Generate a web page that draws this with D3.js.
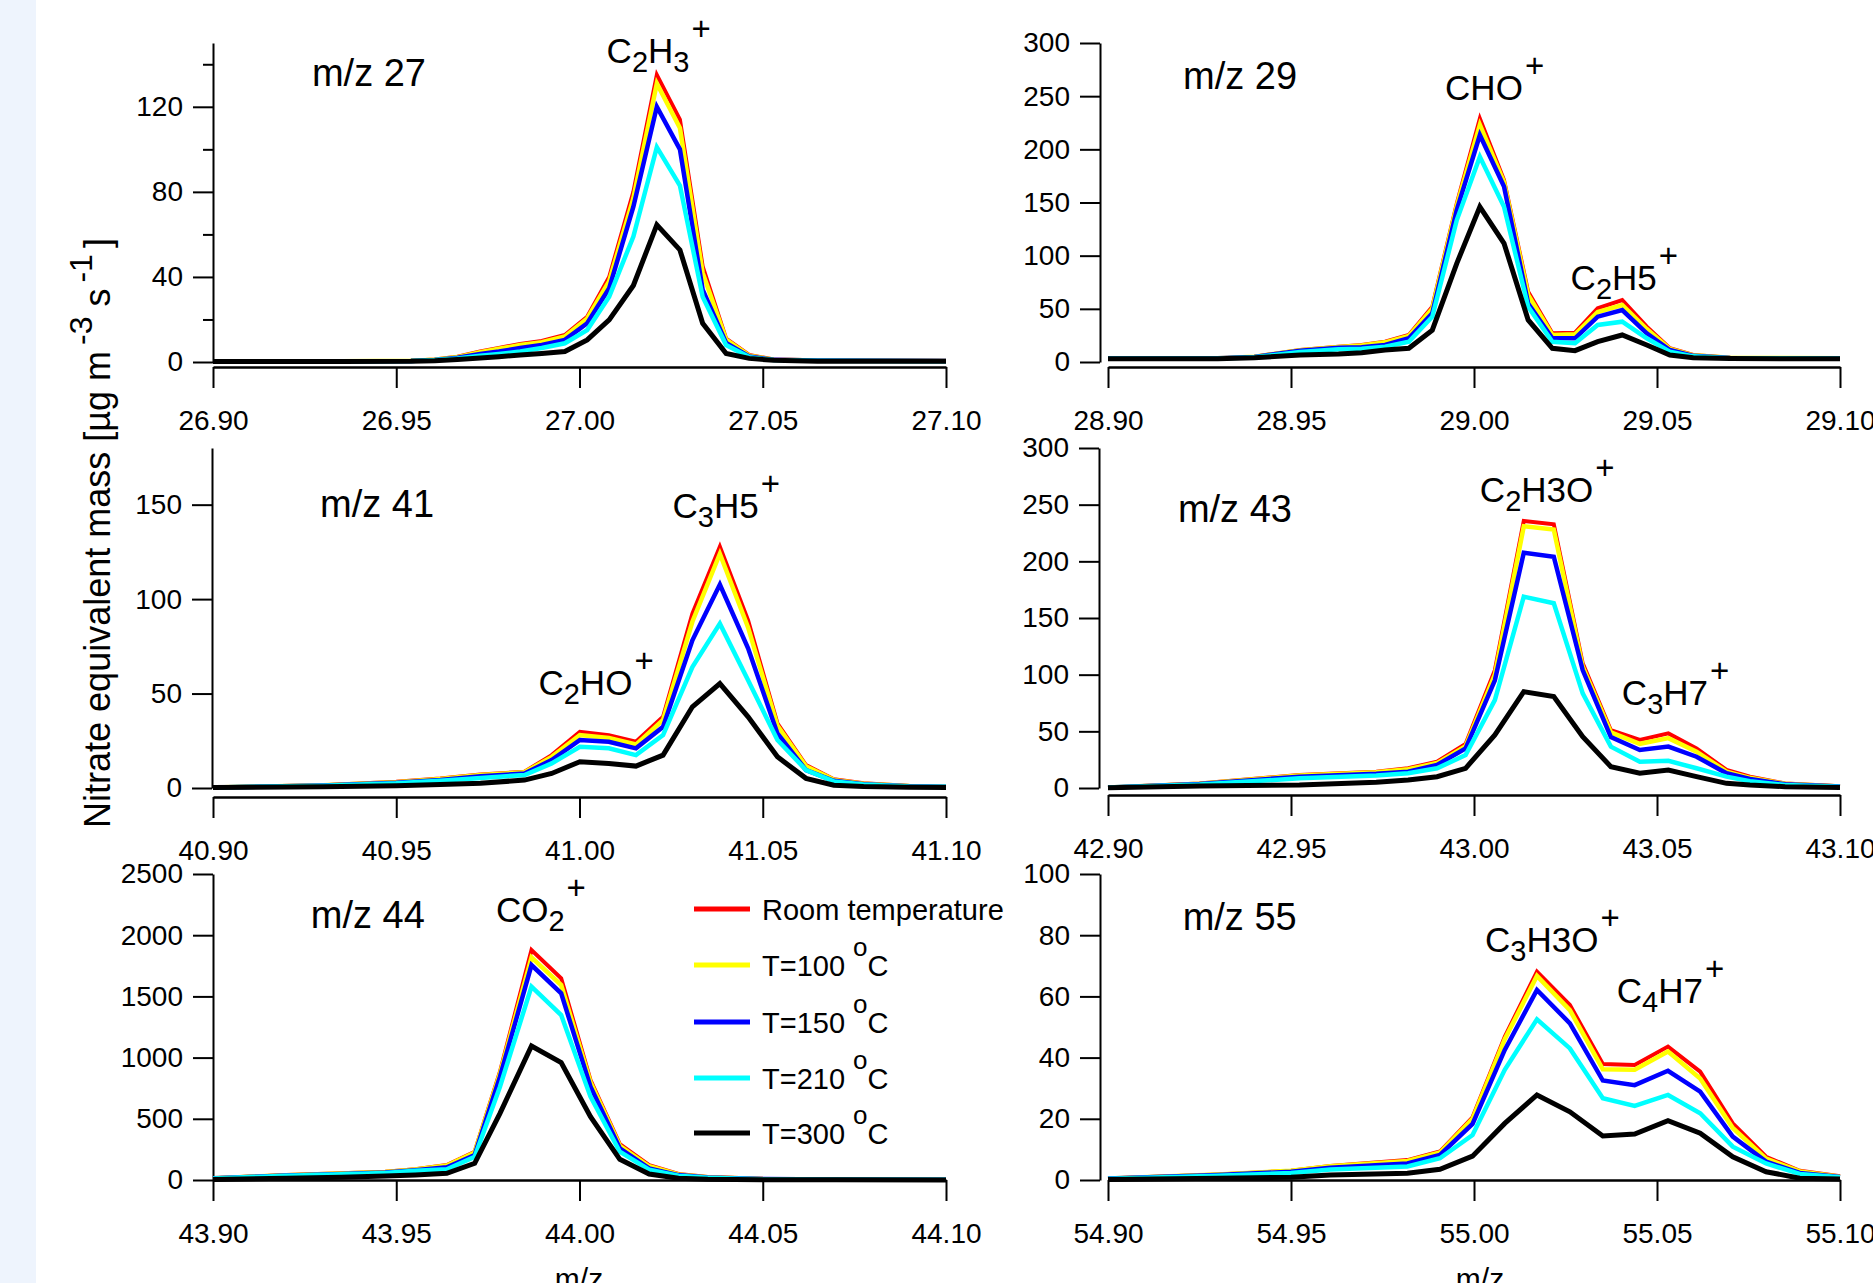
<!DOCTYPE html>
<html><head><meta charset="utf-8">
<script src="https://cdn.jsdelivr.net/npm/d3@7"></script>
<style>
html,body{margin:0;padding:0;background:#fff;}
svg{display:block;}
text{font-family:"Liberation Sans", Arial, sans-serif;fill:#000;}
</style></head><body>
<svg id="chart" width="1873" height="1283"></svg>
<script>
// ---------- series ----------
const seriesLabels = ["Room temperature", "T=100 ", "T=150 ", "T=210 ", "T=300 "];

// ---------- m/z 27 ----------
const mz27    = [26.90, 26.935, 26.954, 26.9605, 26.9667, 26.9729, 26.978, 26.9838, 26.9897, 26.996, 27.0021, 27.0081, 27.0147, 27.0211, 27.0274, 27.0336, 27.040, 27.0463, 27.053, 27.065, 27.10];
const room27  = [0.3, 0.3, 0.6, 1.2, 2.5, 4.9, 6.6, 8.5, 9.9, 12.7, 21.3, 40, 80, 135, 114, 45, 11, 3.3, 1.2, 0.8, 0.5];
const t100_27 = [0.3, 0.3, 0.6, 1.1, 2.3, 4.6, 6.2, 8.0, 9.3, 12.0, 20.5, 38, 77, 131, 110, 42, 10.5, 3.0, 1.1, 0.7, 0.5];
const t150_27 = [0.3, 0.3, 0.5, 1.0, 2.0, 3.8, 4.9, 6.6, 8.0, 10.4, 18.2, 34.7, 73, 120, 100, 34, 9, 2.6, 1.0, 0.7, 0.5];
const t210_27 = [0.3, 0.3, 0.5, 0.9, 1.6, 3.0, 3.8, 4.9, 6.6, 8.8, 15, 30.7, 59, 101, 83, 30.7, 8, 2.3, 0.9, 0.6, 0.4];
const t300_27 = [0.2, 0.2, 0.3, 0.6, 1.2, 1.9, 2.5, 3.3, 4.0, 4.9, 10.4, 19.8, 36, 64.5, 52.7, 18.2, 4, 1.7, 0.8, 0.4, 0.3];

// ---------- m/z 29 ----------
const mz29    = [28.90, 28.93, 28.94, 28.9525, 28.963, 28.9693, 28.9757, 28.9822, 28.9886, 28.9953, 29.0016, 29.0082, 29.0148, 29.0214, 29.0276, 29.0338, 29.0405, 29.0472, 29.0535, 29.0599, 29.07, 29.10];
const room29  = [3.5, 3.5, 5, 11.3, 14.4, 16, 19.1, 25.4, 52, 149, 229, 171, 66, 27, 27.6, 50.5, 58.3, 33.2, 12.9, 6.6, 4, 3.5];
const t100_29 = [3.5, 3.5, 5, 11, 14, 15.5, 18.5, 24.5, 50, 147, 223, 169, 63, 25.5, 26, 47, 53.6, 31, 12.3, 6.3, 4, 3.5];
const t150_29 = [3.5, 3.5, 4.8, 10.5, 13.5, 13.8, 16, 22.3, 45.8, 143, 213.5, 165, 55, 22.3, 22.3, 42.6, 48.9, 27, 11.3, 5.8, 3.8, 3.3];
const t210_29 = [3.3, 3.3, 4.5, 9.5, 12, 12.5, 14.4, 19, 42.6, 133.5, 193, 146, 52, 19, 17.6, 34.8, 37.9, 22.3, 9.7, 5.3, 3.6, 3.2];
const t300_29 = [3, 3, 4, 6.6, 7.5, 8.8, 11.3, 12.9, 30, 92.8, 146, 111.6, 39.5, 12.9, 10.7, 19.1, 25.4, 16, 6.6, 4, 3.3, 3];

// ---------- m/z 41 ----------
const mz41    = [40.90, 40.93, 40.95, 40.962, 40.973, 40.985, 40.9924, 41.0001, 41.008, 41.0154, 41.0228, 41.0308, 41.0383, 41.046, 41.054, 41.0618, 41.0694, 41.0775, 41.09, 41.10];
const room41  = [0.3, 1.5, 3.3, 5, 7.2, 8.6, 17.4, 29.7, 28, 24.5, 37.7, 92.3, 127.8, 88.7, 34.2, 12.1, 4.6, 2.5, 1, 0.8];
const t100_41 = [0.3, 1.4, 3.1, 4.8, 6.9, 8.3, 16.5, 28, 26.5, 23, 36, 88, 124, 85, 33, 11.5, 4.3, 2.3, 1, 0.8];
const t150_41 = [0.3, 1.3, 2.8, 4.3, 6.2, 7.7, 14.8, 25.4, 24.5, 21, 32.4, 78.2, 107.7, 74, 28.9, 9.5, 3.8, 2, 0.9, 0.7];
const t210_41 = [0.3, 1.2, 2.5, 3.8, 5.3, 6.9, 13, 21.8, 21, 17.4, 28, 64, 87, 57, 25.4, 9.5, 3.5, 1.8, 0.8, 0.6];
const t300_41 = [0.2, 0.6, 1.2, 1.8, 2.5, 4.2, 7.7, 13.9, 13, 11.6, 17.4, 43, 55.3, 37.7, 16.5, 5.1, 1.5, 0.8, 0.4, 0.3];

// ---------- m/z 43 ----------
const mz43    = [42.90, 42.925, 42.9523, 42.9733, 42.982, 42.9899, 42.9977, 43.0057, 43.0136, 43.0218, 43.0297, 43.0374, 43.0453, 43.0531, 43.0608, 43.069, 43.0754, 43.085, 43.10];
const room43  = [0.5, 4, 11.5, 14.4, 17.4, 23.2, 38.8, 104, 235.6, 232.6, 110, 51, 42.4, 48.2, 35, 15.9, 10, 4, 1.5];
const t100_43 = [0.5, 3.8, 11, 14, 16.5, 22, 37, 100, 231, 228, 107, 49, 39, 44, 32, 14.5, 9, 3.7, 1.4];
const t150_43 = [0.5, 3.5, 10, 12.5, 14.4, 20.3, 35, 95, 207.6, 204, 104, 45, 33.5, 36.5, 27.6, 13, 8, 3.3, 1.3];
const t210_43 = [0.4, 3, 8.5, 11, 13, 17.4, 29, 77.6, 168.8, 163, 83.5, 36.5, 23.2, 24, 17.4, 10, 6, 2.7, 1.1];
const t300_43 = [0.3, 1.8, 2.6, 5, 7, 10, 17.4, 46.8, 85, 80.6, 45.3, 18.8, 13, 15.9, 10, 4.1, 2.6, 1.2, 0.5];

// ---------- m/z 44 ----------
const mz44    = [43.90, 43.92, 43.935, 43.947, 43.9552, 43.9638, 43.9714, 43.9783, 43.9869, 43.995, 44.003, 44.011, 44.019, 44.027, 44.035, 44.05, 44.07, 44.10];
const room44  = [15, 40, 55, 68, 87, 122, 231, 885, 1879, 1648, 817, 294, 122, 49, 25, 10, 5, 3];
const t100_44 = [15, 39, 53, 66, 85, 118, 225, 870, 1819, 1593, 800, 280, 112, 45, 23, 9, 5, 3];
const t150_44 = [14, 37, 50, 62, 80, 104, 204, 844, 1756, 1525, 762, 259, 95, 40, 20, 8, 4, 3];
const t210_44 = [13, 35, 47, 58, 75, 87, 190, 762, 1580, 1348, 681, 231, 85, 35, 18, 7, 4, 2];
const t300_44 = [5, 15, 22, 33, 41, 55, 136, 545, 1095, 959, 517, 169, 49, 14, 6, 3, 2, 1];

// ---------- m/z 55 ----------
const mz55    = [54.90, 54.93, 54.95, 54.9607, 54.9818, 54.9907, 54.9996, 55.0084, 55.0172, 55.0262, 55.0352, 55.0439, 55.053, 55.0618, 55.0707, 55.0798, 55.089, 55.10];
const room55  = [0.5, 1.8, 3, 4.6, 6.5, 9.3, 20.5, 46.8, 68.1, 57.2, 37.9, 37.6, 43.6, 35.4, 18.5, 7.6, 3, 1.2];
const t100_55 = [0.5, 1.8, 3, 4.5, 6.2, 9, 20, 46, 66.7, 55.5, 36.2, 36, 42, 33.2, 17, 7, 2.8, 1.1];
const t150_55 = [0.5, 1.6, 2.7, 4, 5.4, 8.2, 18.3, 42.5, 62.1, 51.2, 32.5, 31, 35.7, 28.9, 14.2, 6, 2.3, 1];
const t210_55 = [0.4, 1.4, 2.3, 3.4, 4.4, 7.1, 14.7, 36, 52.5, 43, 26.7, 24.2, 27.8, 21.8, 10.9, 5.4, 2, 0.9];
const t300_55 = [0.2, 0.6, 0.9, 1.6, 2.2, 3.5, 7.8, 18.5, 27.8, 22.3, 14.4, 15, 19.4, 15.3, 7.6, 2.7, 0.6, 0.3];

// ---------- ticks ----------
const xTicks27 = [26.90, 26.95, 27.00, 27.05, 27.10];
const xTicks29 = [28.90, 28.95, 29.00, 29.05, 29.10];
const xTicks41 = [40.90, 40.95, 41.00, 41.05, 41.10];
const xTicks43 = [42.90, 42.95, 43.00, 43.05, 43.10];
const xTicks44 = [43.90, 43.95, 44.00, 44.05, 44.10];
const xTicks55 = [54.90, 54.95, 55.00, 55.05, 55.10];
const yTicks27 = [0, 40, 80, 120];
const yMinor27 = [20, 60, 100, 140];
const yTicks29 = [0, 50, 100, 150, 200, 250, 300];
const yTicks41 = [0, 50, 100, 150];
const yTicks43 = [0, 50, 100, 150, 200, 250, 300];
const yTicks44 = [0, 500, 1000, 1500, 2000, 2500];
const yTicks55 = [0, 20, 40, 60, 80, 100];

// ---------- styles ----------
const seriesColors = ["#ff0000", "#ffff00", "#0000ff", "#00ffff", "#000000"];
const seriesWidths = [4, 4.5, 4.5, 4.5, 5];

const panels = [
  {name:"m/z 27", mz:mz27, ys:[room27,t100_27,t150_27,t210_27,t300_27], yMax:150, yTicks:yTicks27, yMinor:yMinor27, xTicks:xTicks27,
   left:213, right:946, axisX:213, top:43, zero:362, xAxisY:367,
   title:[26.927,129.8], labels:[["C_2H_3^+",27.0074,140.6]]},
  {name:"m/z 29", mz:mz29, ys:[room29,t100_29,t150_29,t210_29,t300_29], yMax:300, yTicks:yTicks29, yMinor:[], xTicks:xTicks29,
   left:1108, right:1840, axisX:1100, top:43, zero:362, xAxisY:367,
   title:[28.9205,256.7], labels:[["CHO^+",28.9921,246.4],["C_2H5^+",29.0264,67.7]]},
  {name:"m/z 41", mz:mz41, ys:[room41,t100_41,t150_41,t210_41,t300_41], yMax:180, yTicks:yTicks41, yMinor:[], xTicks:xTicks41,
   left:213, right:946, axisX:212, top:448, zero:788, xAxisY:797,
   title:[40.9292,143.5], labels:[["C_3H5^+",41.0254,142.8],["C_2HO^+",40.9888,49.2]]},
  {name:"m/z 43", mz:mz43, ys:[room43,t100_43,t150_43,t210_43,t300_43], yMax:300, yTicks:yTicks43, yMinor:[], xTicks:xTicks43,
   left:1108, right:1840, axisX:1099, top:448, zero:788, xAxisY:795,
   title:[42.9191,234.7], labels:[["C_2H3O^+",43.0016,252.6],["C_3H7^+",43.0404,73.2]]},
  {name:"m/z 44", mz:mz44, ys:[room44,t100_44,t150_44,t210_44,t300_44], yMax:2500, yTicks:yTicks44, yMinor:[], xTicks:xTicks44,
   left:213, right:946, axisX:213, top:874, zero:1180, xAxisY:1180,
   title:[43.9267,2059], labels:[["CO_2^+",43.9772,2110]]},
  {name:"m/z 55", mz:mz55, ys:[room55,t100_55,t150_55,t210_55,t300_55], yMax:100, yTicks:yTicks55, yMinor:[], xTicks:xTicks55,
   left:1108, right:1840, axisX:1100, top:874, zero:1180, xAxisY:1180,
   title:[54.9204,81.7], labels:[["C_3H3O^+",55.003,74.6],["C_4H7^+",55.039,57.7]]}
];

const svg = d3.select("#chart");
svg.append("rect").attr("x",0).attr("y",0).attr("width",1873).attr("height",1283).attr("fill","#ffffff");
svg.append("rect").attr("x",0).attr("y",0).attr("width",36).attr("height",1283).attr("fill","#eef4fd");

function parseFormula(s){
  const parts=[]; let i=0;
  while(i<s.length){
    if(s[i]==="_"){parts.push({t:s[i+1],k:"sub"});i+=2;}
    else if(s[i]==="^"){parts.push({t:s[i+1],k:"sup"});i+=2;}
    else {parts.push({t:s[i],k:"n"});i+=1;}
  }
  return parts;
}
function drawFormula(g,x,y,str){
  const t=g.append("text").attr("x",x).attr("y",y).attr("font-size",35);
  let shift=0;
  parseFormula(str).forEach(p=>{
    const target = p.k==="sub"?9:(p.k==="sup"?-23:0);
    const ts=t.append("tspan").text(p.t).attr("dy",target-shift);
    if(p.k==="sub") ts.attr("font-size",29);
    if(p.k==="sup") ts.attr("font-size",33).attr("dx",2);
    shift=target;
  });
}

panels.forEach(p=>{
  const x=d3.scaleLinear().domain([p.xTicks[0],p.xTicks[p.xTicks.length-1]]).range([p.left,p.right]);
  const y=d3.scaleLinear().domain([0,p.yMax]).range([p.zero,p.top]);
  const g=svg.append("g");

  // y axis
  const ya=g.append("g").attr("transform",`translate(${p.axisX},0)`)
    .call(d3.axisLeft(y).tickValues(p.yTicks).tickSize(20).tickPadding(10).tickSizeOuter(0).tickFormat(d3.format("d")));
  ya.select(".domain").attr("stroke-width",2);
  ya.selectAll(".tick line").attr("stroke-width",2);
  ya.selectAll("text").attr("font-size",28).attr("font-family",'"Liberation Sans", Arial, sans-serif');
  if(p.yMinor.length){
    const ym=g.append("g").attr("transform",`translate(${p.axisX},0)`)
      .call(d3.axisLeft(y).tickValues(p.yMinor).tickSize(10).tickFormat("").tickSizeOuter(0));
    ym.select(".domain").remove();
    ym.selectAll(".tick line").attr("stroke-width",2);
  }
  // x axis
  const xa=g.append("g").attr("transform",`translate(0,${p.xAxisY})`)
    .call(d3.axisBottom(x).tickValues(p.xTicks).tickSize(21).tickPadding(22).tickSizeOuter(0).tickFormat(d3.format(".2f")));
  xa.select(".domain").attr("stroke-width",2.5);
  xa.selectAll(".tick line").attr("stroke-width",2);
  xa.selectAll("text").attr("font-size",28).attr("font-family",'"Liberation Sans", Arial, sans-serif');

  // lines
  const line=d3.line().x((d,i)=>x(p.mz[i])).y(d=>y(d));
  p.ys.forEach((vals,si)=>{
    g.append("path").datum(vals).attr("d",line).attr("fill","none")
      .attr("stroke",seriesColors[si]).attr("stroke-width",seriesWidths[si])
      .attr("stroke-linejoin","miter");
  });

  // panel title
  g.append("text").attr("x",x(p.title[0])).attr("y",y(p.title[1])).attr("font-size",38).text(p.name);
  // formula labels
  p.labels.forEach(l=>drawFormula(g,x(l[1]),y(l[2]),l[0]));
});

// legend (in m/z 44 panel)
const legY=[909,965,1022,1078,1133];
const leg=svg.append("g");
seriesLabels.forEach((lab,i)=>{
  leg.append("line").attr("x1",694).attr("x2",750).attr("y1",legY[i]).attr("y2",legY[i])
    .attr("stroke",seriesColors[i]).attr("stroke-width",5);
  const t=leg.append("text").attr("x",762).attr("y",legY[i]+11).attr("font-size",29);
  if(i===0){ t.text(lab); }
  else {
    t.append("tspan").text(lab);
    t.append("tspan").text("o").attr("font-size",26).attr("dy",-20);
    t.append("tspan").text("C").attr("dy",20);
  }
});

// x axis titles
svg.append("text").attr("x",579).attr("y",1289).attr("text-anchor","middle").attr("font-size",30).text("m/z");
svg.append("text").attr("x",1480).attr("y",1289).attr("text-anchor","middle").attr("font-size",30).text("m/z");

// y axis title
const yt=svg.append("text").attr("transform","translate(110,533) rotate(-90)").attr("text-anchor","middle").attr("font-size",36);
yt.append("tspan").text("Nitrate equivalent mass [µg m");
yt.append("tspan").text("-3").attr("font-size",32).attr("dy",-18).attr("dx",6);
yt.append("tspan").text(" s").attr("dy",18);
yt.append("tspan").text("-1").attr("font-size",32).attr("dy",-18).attr("dx",6);
yt.append("tspan").text("]").attr("dy",18).attr("dx",6);
</script></body></html>
